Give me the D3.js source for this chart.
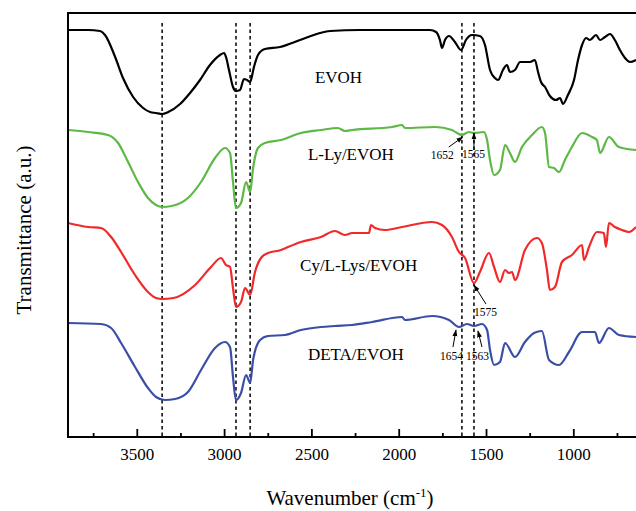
<!DOCTYPE html>
<html>
<head>
<meta charset="utf-8">
<script src="https://cdn.jsdelivr.net/npm/d3@7"></script>
<style>
  body { margin: 0; background: #fff; }
  svg text { font-family: "Liberation Serif", "Times New Roman", Times, serif !important; }
</style>
</head>
<body>
<div id="chart"></div>
<script>
// spectra: [wavenumber cm-1, transmittance a.u.]
var evoh = [[3894,407],[3779,407],[3711,406],[3682,402],[3624,380],[3579,359],[3521,340],[3464,329],[3424,325],[3390,324],[3355,323],[3320,325],[3252,333],[3195,344],[3138,357],[3081,372],[3023,382],[3000,384],[2989,380],[2972,367],[2949,350],[2932,346],[2909,347],[2886,358],[2869,357],[2851,355],[2829,370],[2806,382],[2766,388],[2680,390],[2565,397],[2451,404],[2393,406],[2222,407],[1993,407],[1821,407],[1786,405],[1764,397],[1752,389],[1735,397],[1712,401],[1678,395],[1643,387],[1615,397],[1580,402],[1535,401],[1506,392],[1477,367],[1449,359],[1431,357],[1403,367],[1380,372],[1363,365],[1334,367],[1305,375],[1248,375],[1220,377],[1202,365],[1185,355],[1162,350],[1134,341],[1099,337],[1076,339],[1059,333],[1031,342],[996,357],[973,377],[950,392],[927,399],[905,397],[870,402],[847,397],[819,400],[790,403],[762,397],[733,387],[704,379],[676,375],[641,377]];

var lly = [[3894,307],[3779,305],[3665,302],[3607,294],[3550,275],[3493,255],[3436,239],[3390,232],[3355,230],[3300,231],[3207,239],[3132,255],[3052,279],[2995,289],[2966,284],[2949,255],[2932,229],[2903,234],[2874,255],[2851,245],[2834,269],[2806,289],[2766,294],[2674,297],[2560,304],[2445,307],[2348,309],[2308,306],[2267,307],[2038,310],[1981,312],[1964,309],[1792,310],[1695,307],[1638,302],[1598,305],[1569,304],[1512,305],[1494,297],[1477,277],[1454,262],[1420,267],[1391,292],[1363,284],[1334,275],[1294,290],[1237,302],[1180,310],[1162,304],[1139,270],[1111,269],[1082,265],[1048,277],[1008,290],[950,304],[893,300],[865,297],[847,284],[796,300],[739,290],[641,287]];

var cy = [[3894,214],[3779,210],[3705,209],[3647,200],[3590,185],[3510,162],[3436,145],[3390,139],[3355,138],[3290,139],[3166,152],[3075,170],[3018,179],[2989,172],[2966,170],[2949,149],[2932,130],[2903,135],[2880,149],[2851,142],[2823,165],[2789,179],[2748,184],[2674,187],[2634,190],[2560,195],[2445,200],[2365,206],[2308,202],[2267,204],[2170,204],[2159,212],[2136,209],[2079,207],[1981,210],[1809,215],[1752,212],[1695,200],[1655,185],[1620,179],[1569,154],[1535,165],[1483,184],[1454,170],[1420,155],[1391,167],[1369,164],[1351,165],[1334,157],[1277,187],[1208,199],[1180,194],[1151,167],[1134,147],[1105,150],[1065,175],[1008,182],[950,192],[939,177],[910,190],[865,205],[825,204],[813,190],[796,214],[762,210],[721,207],[681,205],[641,210]];

var deta = [[3894,114],[3705,113],[3647,109],[3590,94],[3510,70],[3436,49],[3390,40],[3340,37],[3281,38],[3207,45],[3132,67],[3052,89],[2995,95],[2966,90],[2949,60],[2932,37],[2903,44],[2874,62],[2851,54],[2834,77],[2794,97],[2748,101],[2651,102],[2560,107],[2445,110],[2365,111],[2267,112],[2153,115],[1981,120],[1964,117],[1809,121],[1712,117],[1655,110],[1609,113],[1569,111],[1523,113],[1494,107],[1477,87],[1454,72],[1420,75],[1391,94],[1334,80],[1277,95],[1225,104],[1180,106],[1139,77],[1082,72],[1025,85],[950,105],[876,105],[853,94],[796,109],[739,102],[641,100]];

var seriesNames = ["EVOH", "L-Ly/EVOH", "Cy/L-Lys/EVOH", "DETA/EVOH"];
var seriesColors = ["#000000", "#5db845", "#f0292b", "#3a4ea8"];
var seriesData = [evoh, lly, cy, deta];
// where each series name starts: [wavenumber, a.u.]
var labelAt = [[2480, 354], [2520, 277], [2565, 166], [2520, 77]];

// dashed reference lines (cm-1)
var refLines = [3355, 2932, 2851, 1638, 1569];

// peak annotations: text, arrow tip [wn, a.u.]
var notes = [
  {text: "1652", tip: [1633, 300], tail: [-14, 10], at: [-32, 22]},
  {text: "1565", tip: [1569, 304], tail: [0, 17], at: [-12, 25]},
  {text: "1575", tip: [1569, 152], tail: [12, 19], at: [0, 31]},
  {text: "1654", tip: [1672, 107], tail: [-3, 17], at: [-16, 30]},
  {text: "1563", tip: [1546, 106], tail: [4, 16], at: [-12, 29]}
];

var majorTicks = [3500, 3000, 2500, 2000, 1500, 1000];
var minorTicks = [3750, 3250, 2750, 2250, 1750, 1250, 750];

var W = 636, H = 511;
var margin = {top: 13, left: 68, bottom: 74};
var serif = "'Liberation Serif', 'Times New Roman', Times, serif";

var svg = d3.select("#chart").append("svg")
    .attr("width", W)
    .attr("height", H)
    .attr("font-family", serif);

var x = d3.scaleLinear().domain([3894, 641]).range([margin.left, W]);
var y = d3.scaleLinear().domain([0, 424]).range([H - margin.bottom, margin.top]);

// dashed guides
svg.selectAll(".ref")
  .data(refLines)
  .enter().append("line")
    .attr("x1", d => x(d)).attr("x2", d => x(d))
    .attr("y1", y(414)).attr("y2", y(0))
    .attr("stroke", "#000")
    .attr("stroke-width", 1.5)
    .attr("stroke-dasharray", "3.5,3");

// spectra
var line = d3.line()
    .x(d => x(d[0]))
    .y(d => y(d[1]))
    .curve(d3.curveMonotoneX);

seriesData.forEach(function(s, i) {
  svg.append("path")
    .datum(s)
    .attr("fill", "none")
    .attr("stroke", seriesColors[i])
    .attr("stroke-width", 2.2)
    .attr("stroke-linejoin", "round")
    .attr("d", line);
});

// series names
svg.selectAll(".name")
  .data(seriesNames)
  .enter().append("text")
    .attr("x", (d, i) => x(labelAt[i][0]))
    .attr("y", (d, i) => y(labelAt[i][1]))
    .style("font-family", serif)
    .style("font-size", "17px")
    .text(d => d);

// arrow head
svg.append("defs").append("marker")
    .attr("id", "head")
    .attr("viewBox", "0 0 10 10")
    .attr("refX", 9).attr("refY", 5)
    .attr("markerWidth", 7).attr("markerHeight", 7)
    .attr("orient", "auto")
  .append("path")
    .attr("d", "M0,1.5L10,5L0,8.5Z")
    .attr("fill", "#000");

notes.forEach(function(n) {
  var tx = x(n.tip[0]), ty = y(n.tip[1]);
  svg.append("line")
    .attr("x1", tx + n.tail[0]).attr("y1", ty + n.tail[1])
    .attr("x2", tx).attr("y2", ty)
    .attr("stroke", "#000")
    .attr("stroke-width", 1)
    .attr("marker-end", "url(#head)");
  svg.append("text")
    .attr("x", tx + n.at[0])
    .attr("y", ty + n.at[1])
    .style("font-family", serif)
    .style("font-size", "11.5px")
    .text(n.text);
});

// x axis: major + minor ticks, pointing inward
var axisMajor = svg.append("g")
    .attr("transform", "translate(0," + y(0) + ")")
    .call(d3.axisBottom(x).tickValues(majorTicks).tickSizeInner(-8).tickSizeOuter(0).tickPadding(11).tickFormat(d3.format("d")));
axisMajor.attr("font-family", serif);
axisMajor.select(".domain").remove();
axisMajor.selectAll("line").attr("stroke-width", 1.8);
axisMajor.selectAll("text")
    .style("font-family", serif)
    .style("font-size", "17px")
    .attr("fill", "#000");

var axisMinor = svg.append("g")
    .attr("transform", "translate(0," + y(0) + ")")
    .call(d3.axisBottom(x).tickValues(minorTicks).tickSizeInner(-4).tickSizeOuter(0).tickFormat(""));
axisMinor.select(".domain").remove();
axisMinor.selectAll("line").attr("stroke-width", 1.8);

// frame: left, top, bottom
svg.append("path")
    .attr("d", "M" + W + "," + margin.top + "H" + margin.left + "V" + y(0) + "H" + W)
    .attr("fill", "none")
    .attr("stroke", "#000")
    .attr("stroke-width", 2);

// axis titles
var xt = svg.append("text")
    .attr("x", 350)
    .attr("y", 505)
    .attr("text-anchor", "middle")
    .style("font-family", serif)
    .style("font-size", "21px");
xt.append("tspan").text("Wavenumber (cm");
xt.append("tspan").attr("dy", -8).style("font-size", "13px").text("-1");
xt.append("tspan").attr("dy", 8).text(")");

svg.append("text")
    .attr("transform", "translate(31," + 230 + ") rotate(-90)")
    .attr("text-anchor", "middle")
    .style("font-family", serif)
    .style("font-size", "21px")
    .text("Transmittance (a.u.)");
</script>
</body>
</html>
